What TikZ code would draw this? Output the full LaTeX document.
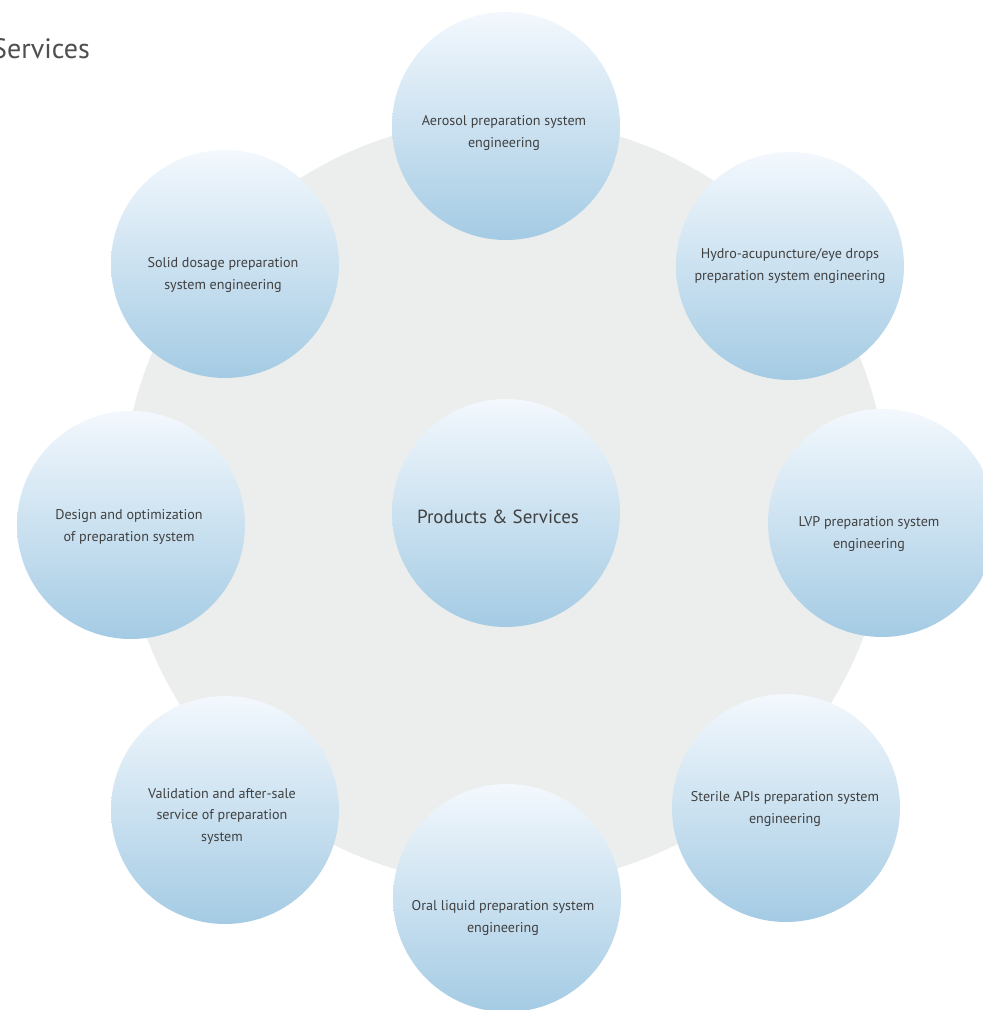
\documentclass[tikz,border=0pt]{standalone}
\usepackage{fontspec}
\setmainfont{PT Sans}
\definecolor{bggrey}{HTML}{ECEEED}
\definecolor{toptint}{HTML}{F3F8FD}
\definecolor{bottint}{HTML}{A4CBE4}
\definecolor{txtgrey}{HTML}{404040}
\definecolor{titlegrey}{HTML}{4F4F4F}
\tikzset{
  bubble/.style={circle, minimum size=228pt, inner sep=0pt, top color=toptint, bottom color=bottint, draw=none},
  btext/.style={align=center, text=txtgrey, font=\fontsize{14.1}{21.5}\selectfont, inner sep=0pt},
}
\begin{document}
\begin{tikzpicture}[x=1pt,y=-1pt]
\useasboundingbox (0,0) rectangle (983,1010);
\clip (0,0) rectangle (983,1010);
\fill[white] (0,0) rectangle (983,1010);
\node[circle, minimum size=766pt, inner sep=0pt, fill=bggrey] (bg) at (505,502) {};
\node[anchor=base east, text=titlegrey, font=\fontsize{28}{30}\selectfont, inner sep=0pt] (title) at (90,58) {Services};
% bubbles
\node[bubble] (aer) at (506,126) {};
\node[bubble] (hyd) at (790,266) {};
\node[bubble] (lvp) at (882,523) {};
\node[bubble] (ste) at (786,808) {};
\node[bubble] (ora) at (507,898) {};
\node[bubble] (val) at (225,810) {};
\node[bubble] (des) at (131,525) {};
\node[bubble] (sol) at (225,264) {};
\node[bubble] (ctr) at (506,513) {};
% texts
\node[btext] (taer) at (504,133) {Aerosol preparation system\\engineering};
\node[btext] (thyd) at (790,266) {Hydro-acupuncture/eye drops\\preparation system engineering};
\node[btext] (tlvp) at (869,534) {LVP preparation system\\engineering};
\node[btext] (tste) at (785,809) {Sterile APIs preparation system\\engineering};
\node[btext] (tora) at (503,918) {Oral liquid preparation system\\engineering};
\node[btext] (tval) at (222,816) {Validation and after-sale\\service of preparation\\system};
\node[btext] (tdes) at (129,527) {Design and optimization\\of preparation system};
\node[btext] (tsol) at (223,275) {Solid dosage preparation\\system engineering};
\node[btext, font=\fontsize{19}{20}\selectfont] (tctr) at (498,517) {Products \& Services};
\end{tikzpicture}
\end{document}
